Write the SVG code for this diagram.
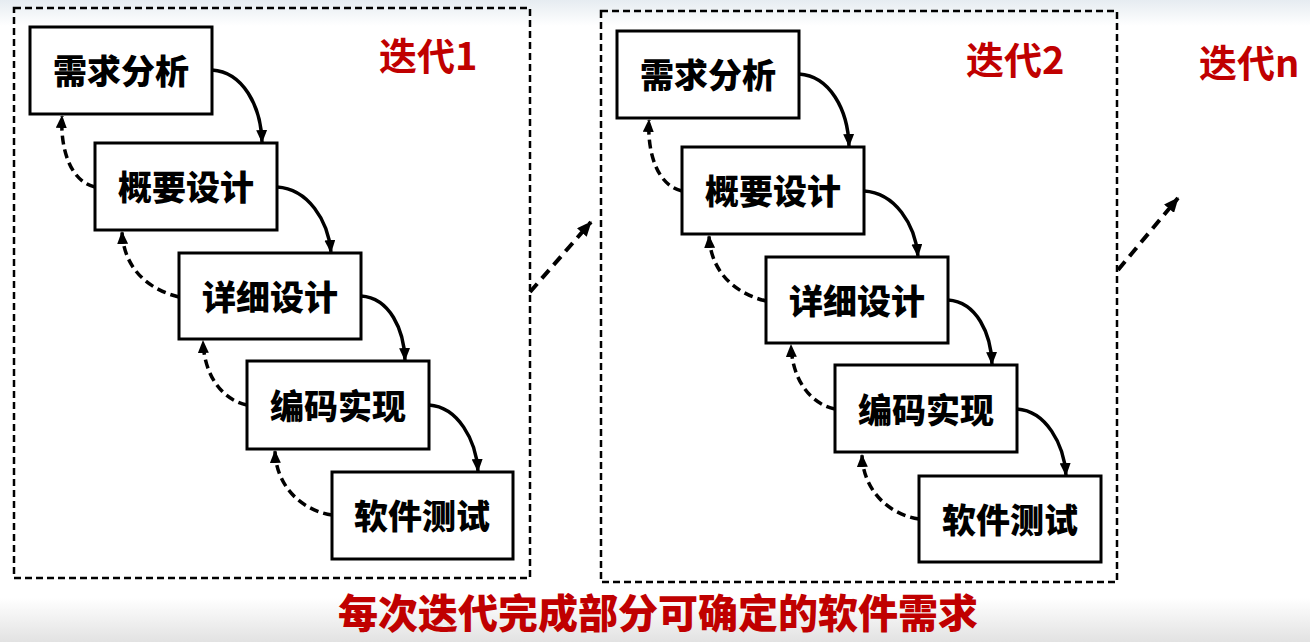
<svg xmlns="http://www.w3.org/2000/svg" width="1310" height="642" viewBox="0 0 1310 642">
  <defs>
    <linearGradient id="topg" x1="0" y1="0" x2="0" y2="1">
      <stop offset="0" stop-color="#e6ecf1"/>
      <stop offset="1" stop-color="#ffffff"/>
    </linearGradient>
    <linearGradient id="botg" x1="0" y1="0" x2="0" y2="1">
      <stop offset="0" stop-color="#ffffff"/>
      <stop offset="1" stop-color="#e2e2e2"/>
    </linearGradient>
    <marker id="ah" viewBox="0 0 13 11" refX="12" refY="5.5" markerWidth="13" markerHeight="11" markerUnits="userSpaceOnUse" orient="auto">
      <path d="M0,0 L13,5.5 L0,11 z" fill="#000"/>
    </marker>
    <marker id="ah2" viewBox="0 0 15 13" refX="14" refY="6.5" markerWidth="15" markerHeight="13" markerUnits="userSpaceOnUse" orient="auto">
      <path d="M0,0 L15,6.5 L0,13 z" fill="#000"/>
    </marker>
    <style>
      .frame { fill: none; stroke: #000; stroke-width: 2.5; stroke-dasharray: 7 4; }
      .box { fill: #fff; stroke: #000; stroke-width: 3; }
      .lbl { font-family: "Noto Sans CJK SC", "Noto Sans", sans-serif; font-weight: 900; font-size: 34px; fill: #000; text-anchor: middle; }
      .title { font-family: "Noto Sans CJK SC", "Noto Sans", sans-serif; font-weight: 700; font-size: 38px; fill: #c00000; }
      .foot { font-family: "Noto Sans CJK SC", "Noto Sans", sans-serif; font-weight: 900; font-size: 40px; fill: #c00000; text-anchor: middle; }
      .fwd { fill: none; stroke: #000; stroke-width: 3.5; marker-end: url(#ah); }
      .back { fill: none; stroke: #000; stroke-width: 3.5; stroke-dasharray: 9 5; marker-end: url(#ah); }
      .next { fill: none; stroke: #000; stroke-width: 4; stroke-dasharray: 11 7; marker-end: url(#ah2); }
    </style>
  </defs>

  <rect x="0" y="0" width="1310" height="642" fill="#fff"/>
  <rect x="0" y="0" width="1310" height="26" fill="url(#topg)"/>
  <rect x="0" y="598" width="1310" height="44" fill="url(#botg)"/>

  <g id="iteration1">
    <rect class="frame" x="14" y="8" width="516" height="570"/>
    <text class="title" x="379" y="70">迭代1</text>
  </g>
  <g id="iteration2">
    <rect class="frame" x="601" y="11" width="516" height="571"/>
    <text class="title" x="966" y="74">迭代2</text>
  </g>
  <g id="iterationN">
    <text class="title" x="1199" y="77">迭代n</text>
  </g>

  <g id="i1-req"><rect class="box" x="30" y="27" width="182" height="87"/><text class="lbl" x="121" y="84">需求分析</text></g>
  <g id="i1-outline"><rect class="box" x="95" y="143" width="182" height="87"/><text class="lbl" x="186" y="200">概要设计</text></g>
  <g id="i1-detail"><rect class="box" x="179" y="253" width="182" height="86"/><text class="lbl" x="270" y="310">详细设计</text></g>
  <g id="i1-code"><rect class="box" x="247" y="361" width="182" height="88"/><text class="lbl" x="338" y="419">编码实现</text></g>
  <g id="i1-test"><rect class="box" x="332" y="472" width="181" height="87"/><text class="lbl" x="422" y="529">软件测试</text></g>

  <g id="i2-req"><rect class="box" x="617" y="31" width="182" height="87"/><text class="lbl" x="708" y="88">需求分析</text></g>
  <g id="i2-outline"><rect class="box" x="682" y="147" width="182" height="87"/><text class="lbl" x="773" y="204">概要设计</text></g>
  <g id="i2-detail"><rect class="box" x="766" y="257" width="182" height="86"/><text class="lbl" x="857" y="314">详细设计</text></g>
  <g id="i2-code"><rect class="box" x="835" y="365" width="182" height="87"/><text class="lbl" x="926" y="423">编码实现</text></g>
  <g id="i2-test"><rect class="box" x="919" y="476" width="182" height="86"/><text class="lbl" x="1010" y="533">软件测试</text></g>

  <g id="connectors">
    <path class="fwd" d="M212,70 C243,72 261,106 262,142"/>
    <path class="fwd" d="M277,187 C308,189 328,220 331,252"/>
    <path class="fwd" d="M361,296 C390,298 404,330 405,360"/>
    <path class="fwd" d="M429,405 C458,407 476,440 478,471"/>
    <path class="back" d="M95,187 C72,182 60,152 62,116"/>
    <path class="back" d="M179,297 C150,290 124,270 122,232"/>
    <path class="back" d="M247,405 C222,400 204,375 203,341"/>
    <path class="back" d="M332,515 C300,510 276,485 275,451"/>

    <path class="fwd" d="M799,74 C830,76 848,110 849,146"/>
    <path class="fwd" d="M864,191 C895,193 915,224 918,256"/>
    <path class="fwd" d="M948,300 C977,302 991,334 992,364"/>
    <path class="fwd" d="M1017,409 C1046,411 1064,444 1066,475"/>
    <path class="back" d="M682,191 C659,186 647,156 649,120"/>
    <path class="back" d="M766,301 C737,294 711,274 709,236"/>
    <path class="back" d="M835,409 C810,404 792,379 791,345"/>
    <path class="back" d="M919,519 C887,514 863,489 862,455"/>

    <path class="next" d="M530,292 L591,222"/>
    <path class="next" d="M1118,270 L1178,198"/>
  </g>

  <text class="foot" x="658" y="628">每次迭代完成部分可确定的软件需求</text>
</svg>
